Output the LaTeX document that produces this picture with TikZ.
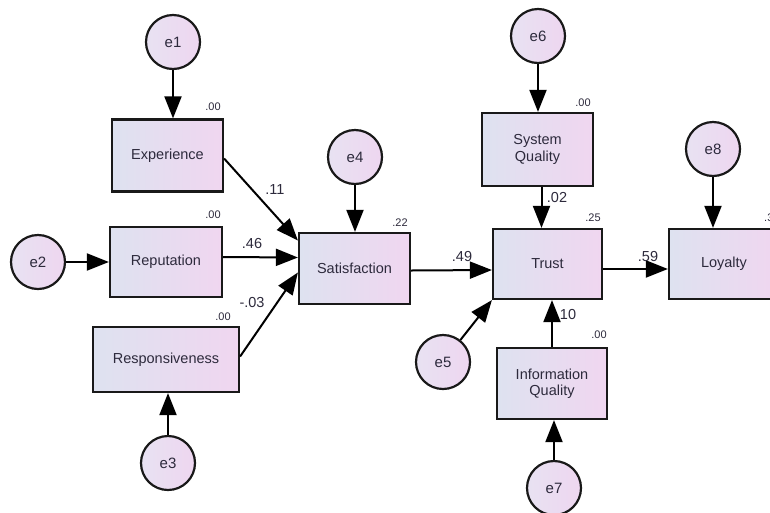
\documentclass[tikz,border=0pt]{standalone}
\usepackage{fontspec}
\setmainfont{Liberation Sans}
\usetikzlibrary{arrows.meta}
\definecolor{boxleft}{RGB}{222,226,240}
\definecolor{boxright}{RGB}{240,214,240}
\definecolor{errleft}{RGB}{232,226,242}
\definecolor{errright}{RGB}{238,214,240}
\definecolor{txt}{RGB}{45,42,60}
\tikzset{
  var/.style={draw=black!90, line width=2.2pt, left color=boxleft, right color=boxright,
    text=txt, font=\fontsize{14.5}{16.5}\selectfont, align=center, inner sep=0pt},
  err/.style={circle, draw=black!90, line width=2.2pt, left color=errleft, right color=errright,
    minimum size=54pt, inner sep=0pt, text=txt, font=\fontsize{15}{16}\selectfont},
  est/.style={text=txt, font=\fontsize{11}{12}\selectfont, inner sep=0pt},
  coef/.style={text=txt, font=\fontsize{14.5}{16}\selectfont, inner sep=0pt},
  reg/.style={-{Triangle[length=22pt,width=17pt]}, line width=2pt, draw=black}
}
\begin{document}
\begin{tikzpicture}[x=1pt,y=-1pt]
  \useasboundingbox (0,0) rectangle (770,512);
  \clip (0,0) rectangle (770,512);
  \fill[white] (0,0) rectangle (770,512);
  % observed variables
  \draw
    (167.5,155.5) node[var, minimum width=111pt, minimum height=72pt] (exp) {Experience}
    (166,262) node[var, minimum width=112pt, minimum height=70pt] (rep) {Reputation}
    (166,359.5) node[var, minimum width=146pt, minimum height=65pt] (resp) {Responsiveness}
    (354.5,268.5) node[var, minimum width=111pt, minimum height=71pt] (sat) {Satisfaction}
    (537.5,149.5) node[var, minimum width=111pt, minimum height=73pt] (sq) {System\\Quality}
    (547.5,264) node[var, minimum width=109pt, minimum height=70pt] (trust) {Trust}
    (552,383.5) node[var, minimum width=110pt, minimum height=71pt] (iq) {Information\\Quality}
    (724,264) node[var, minimum width=110pt, minimum height=70pt] (loy) {Loyalty};
  % error terms
  \draw
    (173,42) node[err] (e1) {e1}
    (38,262) node[err] (e2) {e2}
    (168,463) node[err] (e3) {e3}
    (355,157) node[err] (e4) {e4}
    (443,362) node[err] (e5) {e5}
    (538,36) node[err] (e6) {e6}
    (554,488) node[err] (e7) {e7}
    (713,149) node[err] (e8) {e8};
  % squared multiple correlations
  \draw
    (213,107) node[est] (r2exp) {.00}
    (213,215) node[est] (r2rep) {.00}
    (223,317) node[est] (r2resp) {.00}
    (400,223) node[est] (r2sat) {.22}
    (583,103) node[est] (r2sq) {.00}
    (593,218) node[est] (r2trust) {.25}
    (599,335) node[est] (r2iq) {.00}
    (764,218) node[est, anchor=west] (r2loy) {.3};
  \begin{scope}[reg]
    \draw (e1) -- (e1 |- exp.north);
    \draw (e2) -- (rep);
    \draw (e3) -- (e3 |- resp.south);
    \draw (e4) -- (e4 |- sat.north);
    \draw (e5) -- (trust.south west);
    \draw (e6) -- (e6 |- sq.north);
    \draw (e7) -- (e7 |- iq.south);
    \draw (e8) -- (e8 |- loy.north);
    \draw ([yshift=-3pt]exp.east) -- ([yshift=28pt]sat.west);
    \draw ([yshift=5pt]rep.east) -- ([yshift=11pt]sat.west);
    \draw ([yshift=3pt]resp.east) -- ([yshift=-4pt]sat.west);
    \draw ([yshift=-2pt]sat.east) -- ([yshift=-6pt]trust.west);
    \draw ([xshift=4pt]sq.south) -- ([xshift=4pt]sq.south |- trust.north);
    \draw (iq) -- (iq |- trust.south);
    \draw ([yshift=-5pt]trust.east) -- ([yshift=-5pt]loy.west);
  \end{scope}
  % path coefficients
  \draw
    (275,190) node[coef] (b1) {.11}
    (252,244) node[coef] (b2) {.46}
    (252,302) node[coef] (b3) {-.03}
    (462,257) node[coef] (b4) {.49}
    (557,198) node[coef] (b5) {.02}
    (568,315) node[coef] (b6) {10}
    (648,257) node[coef] (b7) {.59};
\end{tikzpicture}
\end{document}
